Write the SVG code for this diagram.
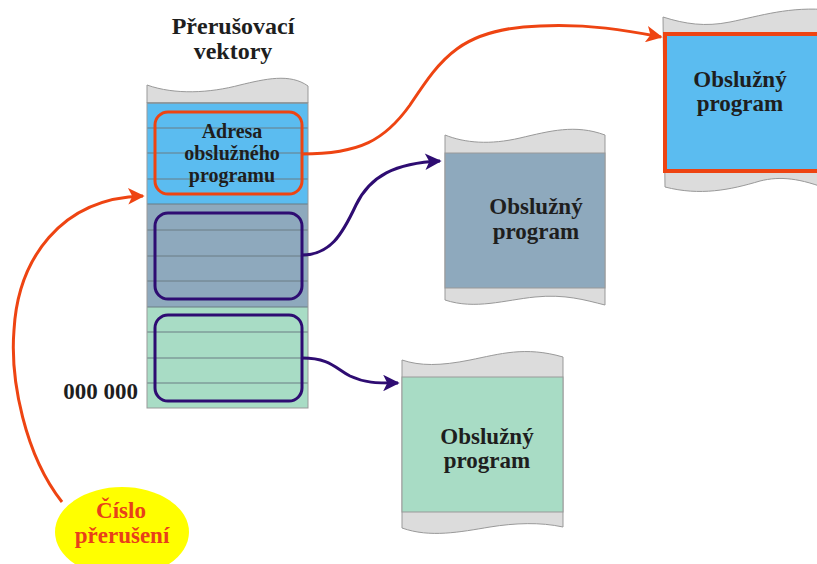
<svg xmlns="http://www.w3.org/2000/svg" width="817" height="564" viewBox="0 0 817 564">
  <style>
    .t { font-family: "Liberation Serif", "Times New Roman", serif; font-weight: bold; fill: #1e1e1e; text-anchor: middle; }
    .big { font-size: 23px; }
    .title { font-size: 24px; }
    .small { font-size: 20px; }
    .red { fill: #e8401a; }
    .cap { fill: #dcdcdc; stroke: #999; stroke-width: 1; }
    .edge { fill: none; stroke: #999; stroke-width: 1; }
    .row { stroke: #6b7c84; stroke-width: 1; }
    .slot { fill: none; stroke-width: 3; }
    .orange { fill: none; stroke: #ee4412; stroke-width: 3; }
    .purple { fill: none; stroke: #2e0c72; stroke-width: 3; }
  </style>
  <defs>
    <marker id="ahOrange" viewBox="0 0 10 10" refX="9" refY="5" markerWidth="6" markerHeight="5.5" markerUnits="strokeWidth" orient="auto">
      <path d="M0,0 L10,5 L0,10 L2.5,5 Z" fill="#ee4412"/>
    </marker>
    <marker id="ahPurple" viewBox="0 0 10 10" refX="9" refY="5" markerWidth="6" markerHeight="5.5" markerUnits="strokeWidth" orient="auto">
      <path d="M0,0 L10,5 L0,10 L2.5,5 Z" fill="#2e0c72"/>
    </marker>
  </defs>

  <!-- vector table -->
  <g id="vector-table">
    <text class="t title" x="233" y="34">Přerušovací</text>
    <text class="t title" x="233" y="59">vektory</text>
    <path class="cap" d="M147,85 C175,95 210,93 240,85 C265,79 290,73 308,86 L308,103 L147,103 Z"/>
    <rect x="147" y="103" width="161" height="101" fill="#5bbcf0"/>
    <rect x="147" y="204" width="161" height="103" fill="#8ea9bd"/>
    <rect x="147" y="307" width="161" height="101" fill="#a8dcc5"/>
    <g class="row">
      <line x1="147" y1="103" x2="308" y2="103"/>
      <line x1="147" y1="128" x2="308" y2="128"/>
      <line x1="147" y1="153" x2="308" y2="153"/>
      <line x1="147" y1="179" x2="308" y2="179"/>
      <line x1="147" y1="204" x2="308" y2="204"/>
      <line x1="147" y1="230" x2="308" y2="230"/>
      <line x1="147" y1="256" x2="308" y2="256"/>
      <line x1="147" y1="281" x2="308" y2="281"/>
      <line x1="147" y1="307" x2="308" y2="307"/>
      <line x1="147" y1="332" x2="308" y2="332"/>
      <line x1="147" y1="358" x2="308" y2="358"/>
      <line x1="147" y1="383" x2="308" y2="383"/>
    </g>
    <rect class="edge" x="147" y="103" width="161" height="305"/>
    <text class="t big" x="138" y="399" style="text-anchor:end">000 000</text>
  </g>

  <g id="slot-address">
    <rect class="slot" x="155" y="112" width="147" height="82" rx="13" stroke="#ee4412"/>
    <text class="t small" x="232" y="138">Adresa</text>
    <text class="t small" x="232" y="160">obslužného</text>
    <text class="t small" x="232" y="182">programu</text>
  </g>
  <g id="slot-2">
    <rect class="slot" x="155" y="213" width="147" height="86" rx="13" stroke="#2e0c72"/>
  </g>
  <g id="slot-3">
    <rect class="slot" x="155" y="315" width="147" height="86" rx="13" stroke="#2e0c72"/>
  </g>

  <!-- service routines -->
  <g id="routine-active">
    <path class="cap" d="M663,17 C685,24 705,27 730,22 C760,16 790,6 830,10 L830,190 C800,178 780,176 760,181 C730,190 700,196 665,187 Z"/>
    <rect x="665" y="34" width="170" height="137" fill="#5bbcf0" stroke="#ee4412" stroke-width="4"/>
    <text class="t big" x="740" y="87">Obslužný</text>
    <text class="t big" x="740" y="111">program</text>
  </g>
  <g id="routine-2">
    <path class="cap" d="M445,135 C465,143 490,145 520,138 C550,131 575,124 605,135 L605,305 C585,300 565,294 535,297 C505,300 475,310 445,300 Z"/>
    <rect x="445" y="153" width="160" height="135" fill="#8ea9bd" stroke="#999" stroke-width="1"/>
    <text class="t big" x="536" y="214">Obslužný</text>
    <text class="t big" x="536" y="239">program</text>
  </g>
  <g id="routine-3">
    <path class="cap" d="M402,360 C420,366 440,366 470,360 C500,354 525,346 563,357 L563,527 C540,522 515,523 490,527 C460,532 430,538 402,528 Z"/>
    <rect x="402" y="377" width="161" height="135" fill="#a8dcc5" stroke="#999" stroke-width="1"/>
    <text class="t big" x="487" y="444">Obslužný</text>
    <text class="t big" x="487" y="468">program</text>
  </g>

  <g id="interrupt-number">
    <ellipse cx="122" cy="532" rx="67" ry="45" fill="#ffff00"/>
    <text class="t big red" x="121" y="518">Číslo</text>
    <text class="t big red" x="122" y="543">přerušení</text>
  </g>

  <!-- connectors -->
  <g id="connectors">
    <path class="orange" marker-end="url(#ahOrange)" d="M302,154 C360,154 385,140 410,105 C440,60 460,28 540,26 C590,24 625,30 661,37"/>
    <path class="purple" marker-end="url(#ahPurple)" d="M302,255 C330,255 342,235 356,205 C370,176 395,163 440,161"/>
    <path class="purple" marker-end="url(#ahPurple)" d="M302,358 C330,358 335,368 350,376 C365,383 375,383 398,383"/>
    <path class="orange" marker-end="url(#ahOrange)" d="M62,502 C25,455 10,380 14,330 C18,260 60,198 143,196"/>
  </g>
</svg>
